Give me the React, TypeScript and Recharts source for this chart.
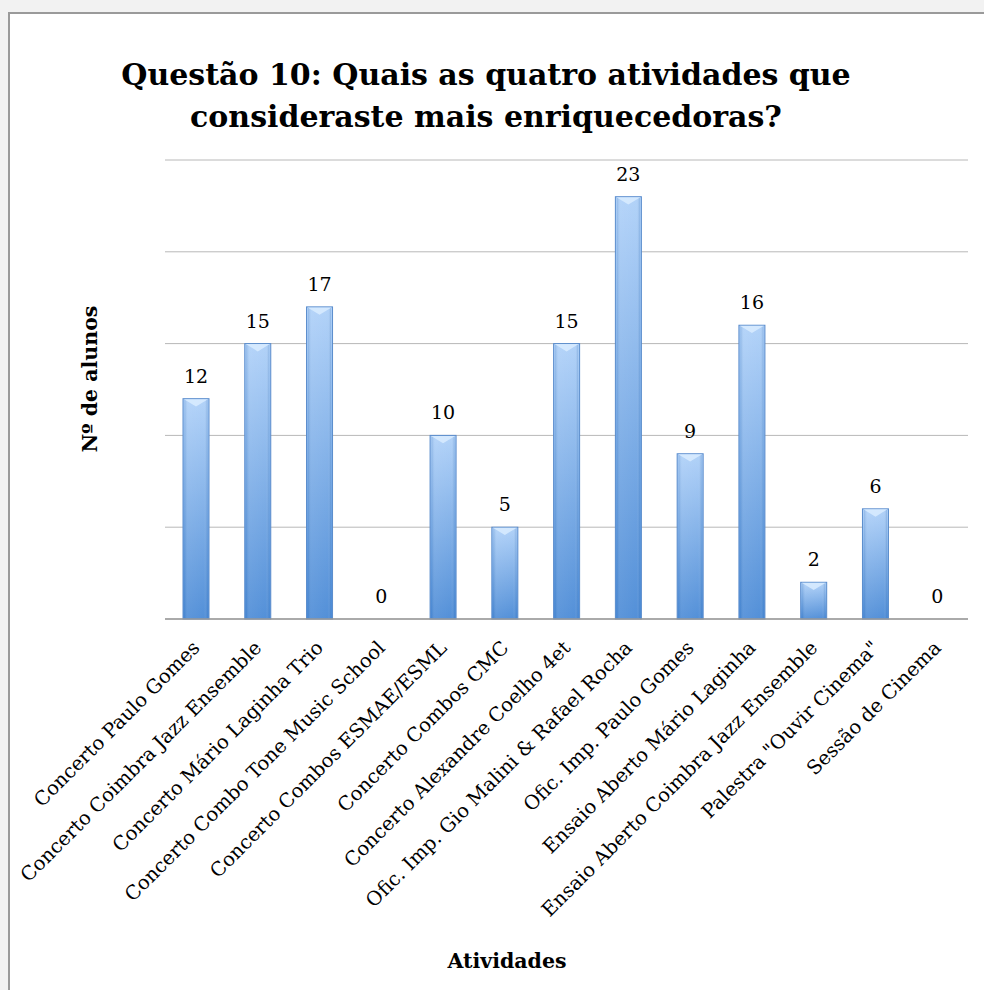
import React from "react";
import { BarChart, Bar, XAxis, YAxis, CartesianGrid, LabelList } from "recharts";

const categories = [
  "Concerto Paulo Gomes",
  "Concerto Coimbra Jazz Ensemble",
  "Concerto Mário Laginha Trio",
  "Concerto Combo Tone Music School",
  "Concerto Combos ESMAE/ESML",
  "Concerto Combos CMC",
  "Concerto Alexandre Coelho 4et",
  "Ofic. Imp. Gio Malini & Rafael Rocha",
  "Ofic. Imp. Paulo Gomes",
  "Ensaio Aberto Mário Laginha",
  "Ensaio Aberto Coimbra Jazz Ensemble",
  "Palestra \"Ouvir Cinema\"",
  "Sessão de Cinema",
];
const alunos = [12, 15, 17, 0, 10, 5, 15, 23, 9, 16, 2, 6, 0];
const yTicks = [0, 5, 10, 15, 20, 25];

const data = categories.map((c, i) => ({ name: c, value: alunos[i] }));

const FONT = "'DejaVu Serif', serif";

const BarShape = (props: any) => {
  const { x, y, width, height } = props;
  if (!height || height <= 0) return null;
  const bev = Math.min(width * 0.3, height / 2);
  return (
    <g>
      <rect x={x} y={y} width={width} height={height} fill="url(#barGrad)" stroke="#5a8ccc" strokeWidth={1} />
      <rect x={x + 1.5} y={y + 1} width={width - 3} height={Math.max(height - 2, 0)} fill="url(#barSide)" />
      <polygon
        points={`${x + 1},${y + 0.5} ${x + width - 1},${y + 0.5} ${x + width / 2},${y + bev}`}
        fill="#d9ecff"
        opacity={0.85}
      />
    </g>
  );
};

const Tick = (props: any) => {
  const { x, y, payload } = props;
  return (
    <text
      x={x + 5}
      y={y + 22}
      transform={`rotate(-45 ${x + 5} ${y + 22})`}
      textAnchor="end"
      fontFamily={FONT}
      fontSize={19.5}
      fill="#000"
    >
      {payload.value}
    </text>
  );
};

export default function App() {
  return (
    <div style={{ position: "fixed", left: 0, top: 0, width: "100vw", height: "100vh", background: "#f2f2f2", overflow: "hidden" }}>
      <div
        style={{
          position: "absolute",
          left: 8,
          top: 12,
          right: -20,
          bottom: -20,
          background: "#fff",
          borderLeft: "2px solid #9a9a9a",
          borderTop: "2px solid #9a9a9a",
        }}
      />
      <div
        style={{
          position: "absolute",
          left: 0,
          top: 54,
          width: 972,
          textAlign: "center",
          fontFamily: FONT,
          fontWeight: "bold",
          fontSize: 30,
          lineHeight: "42px",
          color: "#000",
        }}
      >
        Questão 10: Quais as quatro atividades que
        <br />
        consideraste mais enriquecedoras?
      </div>
      <div
        style={{
          position: "absolute",
          left: 507 - 100,
          top: 947,
          width: 200,
          textAlign: "center",
          fontFamily: FONT,
          fontWeight: "bold",
          fontSize: 20.5,
          lineHeight: "28px",
          color: "#000",
        }}
      >
        Atividades
      </div>
      <div
        style={{
          position: "absolute",
          left: 90 - 100,
          top: 379 - 14,
          width: 200,
          height: 28,
          lineHeight: "28px",
          textAlign: "center",
          fontFamily: FONT,
          fontWeight: "bold",
          fontSize: 20.5,
          color: "#000",
          transform: "rotate(-90deg)",
        }}
      >
        Nº de alunos
      </div>
      <div style={{ position: "absolute", left: 0, top: 0 }}>
        <BarChart
          width={984}
          height={990}
          data={data}
          margin={{ top: 160, right: 16, bottom: 0, left: 165 }}
        >
          <defs>
            <linearGradient id="barGrad" x1="0" y1="0" x2="0" y2="1">
              <stop offset="0%" stopColor="#aed0f8" />
              <stop offset="100%" stopColor="#4a8ad6" />
            </linearGradient>
            <linearGradient id="barSide" x1="0" y1="0" x2="1" y2="0">
              <stop offset="0%" stopColor="#3b73b5" stopOpacity={0.25} />
              <stop offset="15%" stopColor="#ffffff" stopOpacity={0.1} />
              <stop offset="85%" stopColor="#ffffff" stopOpacity={0.05} />
              <stop offset="100%" stopColor="#3b73b5" stopOpacity={0.3} />
            </linearGradient>
          </defs>
          <CartesianGrid vertical={false} stroke="#b8b8b8" strokeWidth={1} />
          <YAxis hide width={0} domain={[0, 25]} ticks={yTicks} />
          <XAxis
            dataKey="name"
            height={371}
            interval={0}
            tickLine={false}
            axisLine={{ stroke: "#9a9a9a", strokeWidth: 1.5 }}
            tick={<Tick />}
          />
          <Bar dataKey="value" barSize={26} shape={<BarShape />} isAnimationActive={false}>
            <LabelList dataKey="value" position="top" offset={16} fontFamily={FONT} fontSize={19} fill="#000" />
          </Bar>
        </BarChart>
      </div>
    </div>
  );
}
